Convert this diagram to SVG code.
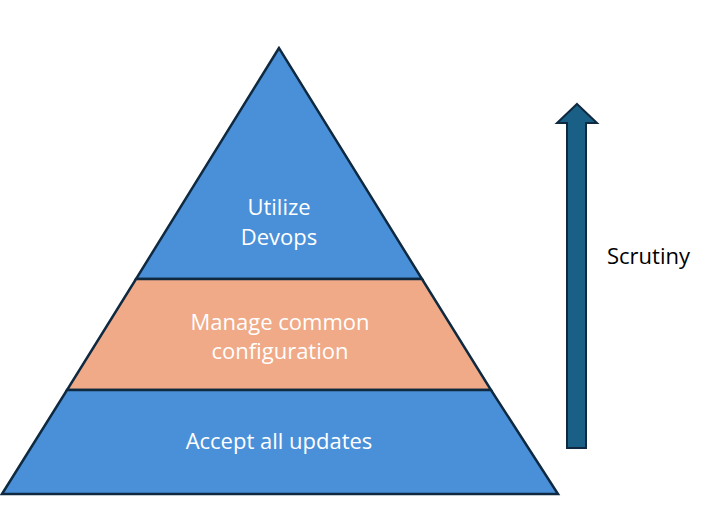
<svg xmlns="http://www.w3.org/2000/svg" width="706" height="525" viewBox="0 0 706 525">
<style>
.blue{fill:#4a90d9;stroke:#0f2a40;stroke-width:2.5;stroke-linejoin:miter}
.orange{fill:#f0aa87;stroke:#0f2a40;stroke-width:2.5}
.lbl{font-family:"Open Sans","Liberation Sans",sans-serif;font-size:22px;fill:#ffffff;text-anchor:middle}
.side{font-family:"Open Sans","Liberation Sans",sans-serif;font-size:22px;fill:#000000}
</style>
<rect width="706" height="525" fill="#ffffff"/>
<g id="top">
<polygon class="blue" points="279,48 136,279 422,279"/>
<text class="lbl" x="279" y="215">Utilize</text>
<text class="lbl" x="279" y="245">Devops</text>
</g>
<g id="middle">
<polygon class="orange" points="136,279 422,279 491,390 67,390"/>
<text class="lbl" x="280" y="330">Manage common</text>
<text class="lbl" x="280" y="359">configuration</text>
</g>
<g id="bottom">
<polygon class="blue" points="67,390 491,390 558,494 2,494"/>
<text class="lbl" x="279" y="449">Accept all updates</text>
</g>
<g id="connectors">
<polygon points="577,104 597,123 586,123 586,448 567,448 567,123 557,123" fill="#1a5f85" stroke="#0f2a40" stroke-width="2"/>
</g>
<g id="scrutiny">
<text class="side" x="607" y="264">Scrutiny</text>
</g>
</svg>
